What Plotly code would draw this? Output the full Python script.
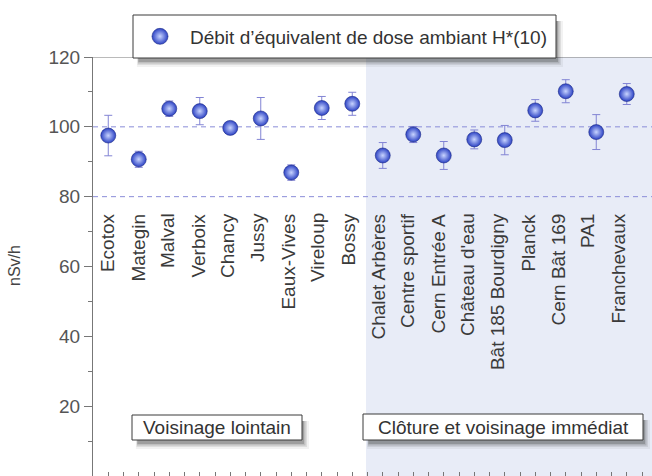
import plotly.graph_objects as go

# ---------------- data ----------------
stations = ["Ecotox", "Mategin", "Malval", "Verboix", "Chancy", "Jussy", "Eaux-Vives",
            "Vireloup", "Bossy", "Chalet Arbères", "Centre sportif", "Cern Entrée A",
            "Château d'eau", "Bât 185 Bourdigny", "Planck", "Cern Bât 169", "PA1", "Franchevaux"]
dose = [97.5, 90.7, 105.2, 104.5, 99.7, 102.4, 86.9, 105.4, 106.6,
        91.8, 97.8, 91.8, 96.4, 96.2, 104.7, 110.2, 98.5, 109.4]
err = [5.8, 2.3, 2.2, 3.9, 1.4, 6.0, 2.2, 3.3, 3.3,
       3.7, 2.3, 4.0, 2.7, 4.2, 3.1, 3.3, 5.0, 3.0]
y_ticks = [0, 20, 40, 60, 80, 100, 120]
ref_lines = [80, 100]
legend_name = "Débit d’équivalent de dose ambiant H*(10)"
zone_labels = ["Voisinage lointain", "Clôture et voisinage immédiat"]
n_far = 9  # first group size

# ---------------- layout geometry ----------------
W, H = 652, 476
ML, MR, MT, MB = 93, 0, 57, 0
PW, PH = W - ML - MR, H - MT - MB
STEP = 30.5  # px per category
x_range = [-0.5, -0.5 + PW / STEP]
FONT = "Liberation Sans"

def px(x):
    return (x - ML) / PW

def py(y):
    return (H - MB - y) / PH

idx = list(range(len(stations)))

fig = go.Figure()
fig.add_trace(go.Scatter(
    x=idx, y=dose, mode="markers", name=legend_name,
    error_y=dict(type="data", array=err, visible=True, color="#8284d4", thickness=1, width=4),
    marker=dict(size=15, color="#2c42c4",
                gradient=dict(type="radial", color="#c8d4ff"),
                line=dict(width=0.6, color="#1c2a85")),
    showlegend=False,
))
# legend-only entry (larger symbol)
fig.add_trace(go.Scatter(
    x=[None], y=[None], mode="markers", name=legend_name,
    marker=dict(size=30, color="#2c42c4",
                gradient=dict(type="radial", color="#c8d4ff"),
                line=dict(width=0.6, color="#1c2a85")),
    showlegend=True,
))

shapes = []
# shaded right-hand zone
shapes.append(dict(type="rect", xref="x", yref="paper", x0=n_far - 0.55, x1=x_range[1],
                   y0=0, y1=1, fillcolor="#e8ecf7", line=dict(width=0), layer="below"))
for v in ref_lines:
    shapes.append(dict(type="line", xref="paper", yref="y", x0=0, x1=1, y0=v, y1=v,
                       line=dict(color="#8a8cd8", width=1, dash="5px,4px"), layer="below"))
# top border line
shapes.append(dict(type="line", xref="paper", yref="y", x0=0, x1=1, y0=120, y1=120,
                   line=dict(color="#777777", width=1), layer="below"))


def box(x0, y0, x1, y1):
    # shadow layers
    for k, a in [(7, 0.06), (5, 0.10), (3.5, 0.16), (2, 0.22)]:
        shapes.append(dict(type="rect", xref="paper", yref="paper",
                           x0=px(x0 + 6 - k * 0.3), x1=px(x1 + k),
                           y0=py(y1 + k + 2), y1=py(y0 + 6),
                           fillcolor=f"rgba(40,40,40,{a})", line=dict(width=0), layer="above"))
    shapes.append(dict(type="rect", xref="paper", yref="paper",
                       x0=px(x0), x1=px(x1), y0=py(y1), y1=py(y0),
                       fillcolor="white", line=dict(color="#3a3a3a", width=1), layer="above"))


box(133, 15, 556, 58)
box(132, 415, 302, 440)
box(363, 414, 643, 440)

annotations = []
for i, s in enumerate(stations):
    annotations.append(dict(x=i, y=75.8, xref="x", yref="y", text=s, textangle=-90,
                            showarrow=False, xanchor="center", yanchor="top", xshift=-0.5 * i,
                            font=dict(family=FONT, size=19, color="#3a3a3a")))
annotations.append(dict(x=px(217), y=py(427.5), xref="paper", yref="paper", text=zone_labels[0],
                        showarrow=False, xanchor="center", yanchor="middle",
                        font=dict(family=FONT, size=19, color="#333333")))
annotations.append(dict(x=px(503), y=py(427.5), xref="paper", yref="paper", text=zone_labels[1],
                        showarrow=False, xanchor="center", yanchor="middle",
                        font=dict(family=FONT, size=19, color="#333333")))
annotations.append(dict(x=px(14), y=py(266), xref="paper", yref="paper", text="nSv/h",
                        textangle=-90, showarrow=False, xanchor="center", yanchor="middle",
                        font=dict(family=FONT, size=16, color="#444444")))

fig.update_layout(
    width=W, height=H,
    margin=dict(l=ML, r=MR, t=MT, b=MB, autoexpand=False),
    plot_bgcolor="white", paper_bgcolor="white",
    font=dict(family=FONT, color="#444444"),
    shapes=shapes, annotations=annotations,
    showlegend=True,
    legend=dict(xref="container", yref="container", x=130 / W, y=1 - 36.5 / H,
                xanchor="left", yanchor="middle", bgcolor="rgba(0,0,0,0)", borderwidth=0,
                itemwidth=50, font=dict(family=FONT, size=19, color="#333333")),
    xaxis=dict(range=x_range, showgrid=False, zeroline=False, showline=True,
               linecolor="#777777", linewidth=1, tickmode="linear", tick0=-0.5, dtick=0.5,
               ticks="inside", ticklen=4, tickcolor="#777777", showticklabels=False),
    yaxis=dict(range=[0, 120], showgrid=False, zeroline=False, showline=True,
               linecolor="#777777", linewidth=1, tickmode="array", tickvals=y_ticks,
               ticks="outside", ticklen=8, tickcolor="#777777",
               minor=dict(ticks="outside", ticklen=4, dtick=10, tickcolor="#777777", showgrid=False),
               tickfont=dict(family=FONT, size=19, color="#555555")),
)

fig.write_html("out.html",
               config={"displayModeBar": False},
               post_script="document.body.style.margin='0';"
                           "document.documentElement.style.overflow='hidden';"
                           "document.body.style.overflow='hidden';")
